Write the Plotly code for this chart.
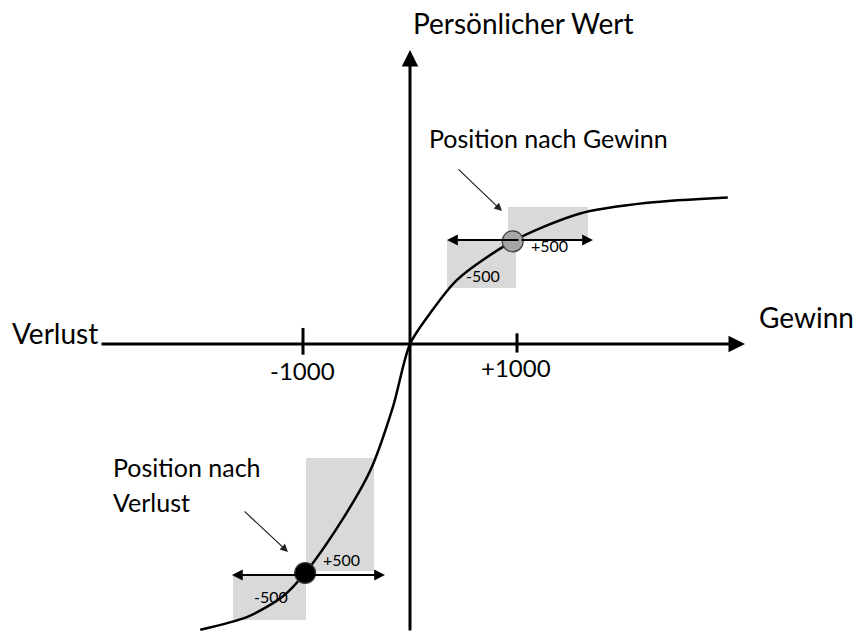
import plotly.graph_objects as go

# Wertfunktion (Prospect Theory): Gewinn/Verlust -> persönlicher Wert
gain_loss = [-1960, -1520, -1190, -980, -650, -370, -160, 0, 190, 440, 960, 1590, 2220, 2970]
value = [-2670, -2550, -2360, -2140, -1670, -1180, -590, 0, 290, 600, 960, 1220, 1320, 1370]

# Positionen nach Gewinn / Verlust
pos_x = [960, -980]
pos_y = [960, -2140]
pos_color = ["#a6a6a6", "#000000"]

# Graue Flächen (x0, x1, y0, y1)
rects_x0 = [916, 346, -972, -1654]
rects_x1 = [1664, 991, -336, -972]
rects_y0 = [972, 523, -2121, -2579]
rects_y1 = [1280, 972, -1065, -2159]

# Doppelpfeile +/-500 (y, x links, x rechts)
step_y = [972, -2159]
step_left = [346, -1664]
step_right = [1710, -234]

tick_vals = [-1000, 1000]
tick_text = ["-1000", "+1000"]

W, H = 854, 632
scale = 0.107  # Pixel pro Einheit
x0_px, y0_px = 410, 344
x_range = [-x0_px / scale, (W - x0_px) / scale]
y_range = [-(H - y0_px) / scale, y0_px / scale]

FONT = "Lato"

fig = go.Figure()

for a, b, c, d in zip(rects_x0, rects_x1, rects_y0, rects_y1):
    fig.add_shape(type="rect", x0=a, x1=b, y0=c, y1=d, xref="x", yref="y",
                  fillcolor="#d9d9d9", line=dict(width=0), layer="below")

fig.add_trace(go.Scatter(x=gain_loss, y=value, mode="lines",
                         line=dict(color="black", width=2.5, shape="spline", smoothing=0.8),
                         hoverinfo="skip"))

# Achsen mit Pfeilen
fig.add_annotation(x=(745 - x0_px) / scale, y=0, ax=(100 - x0_px) / scale, ay=0,
                   xref="x", yref="y", axref="x", ayref="y", text="",
                   showarrow=True, arrowhead=2, arrowsize=1.1, arrowwidth=3, arrowcolor="black")
fig.add_annotation(x=0, y=(y0_px - 50) / scale, ax=0, ay=y_range[0],
                   xref="x", yref="y", axref="x", ayref="y", text="",
                   showarrow=True, arrowhead=2, arrowsize=1.1, arrowwidth=3, arrowcolor="black")

# Achsenstriche
for tv, (lo, hi) in zip(tick_vals, [(-100, 150), (-80, 100)]):
    fig.add_shape(type="line", x0=tv, x1=tv, y0=lo, y1=hi, xref="x", yref="y",
                  line=dict(color="black", width=3))

# Doppelpfeile
for y, xl, xr in zip(step_y, step_left, step_right):
    for tip in (xl, xr):
        fig.add_annotation(x=tip, y=y, ax=(xl + xr) / 2, ay=y, xref="x", yref="y",
                           axref="x", ayref="y", text="", showarrow=True,
                           arrowhead=2, arrowsize=1.2, arrowwidth=1.8, arrowcolor="black")

fig.add_trace(go.Scatter(x=pos_x, y=pos_y, mode="markers",
                         marker=dict(size=21, color=pos_color, line=dict(color="#404040", width=1.2)),
                         hoverinfo="skip"))

# Hinweispfeile
pointers = [((502, 211), (457, 168)), ((288, 552), (243, 510))]
for (tx, ty), (sx, sy) in pointers:
    fig.add_annotation(x=(tx - x0_px) / scale, y=(y0_px - ty) / scale,
                       ax=(sx - x0_px) / scale, ay=(y0_px - sy) / scale,
                       xref="x", yref="y", axref="x", ayref="y", text="", showarrow=True,
                       arrowhead=2, arrowsize=1.3, arrowwidth=1.2, arrowcolor="#222222")


def label(text, px, py, size, anchor="left"):
    fig.add_annotation(x=px / W, y=1 - py / H, xref="paper", yref="paper", text=text,
                       showarrow=False, xanchor=anchor, yanchor="middle",
                       font=dict(family=FONT, size=size, color="black"))


label("Persönlicher Wert", 411, 23, 28)
label("Gewinn", 757, 317, 28)
label("Verlust", 10, 333, 28)
label("Position nach Gewinn", 427, 138, 25)
label("Position nach", 111, 467, 25)
label("Verlust", 111, 502, 25)
label(tick_text[0], 302, 370, 24, "center")
label(tick_text[1], 516, 367, 24, "center")
label("+500", 529, 245, 16)
label("-500", 464, 275, 16)
label("+500", 321, 559, 16)
label("-500", 252, 596, 16)

fig.update_layout(
    width=W, height=H,
    margin=dict(l=0, r=0, t=0, b=0),
    plot_bgcolor="white", paper_bgcolor="white",
    showlegend=False,
    xaxis=dict(range=x_range, visible=False, fixedrange=True),
    yaxis=dict(range=y_range, visible=False, fixedrange=True),
)

# Seitenrand des Browsers entfernen, damit die Grafik das Fenster genau füllt
fig.write_html("out.html", config={"displayModeBar": False},
               post_script="document.body.style.margin='0';")
